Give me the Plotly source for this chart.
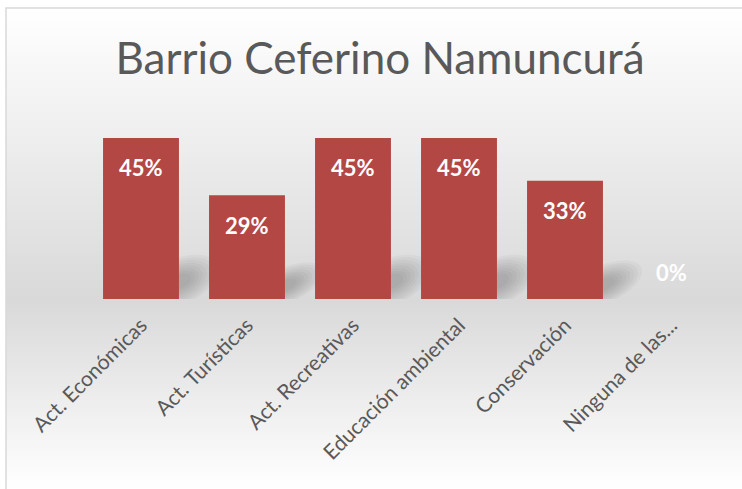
import math
import plotly.graph_objects as go

categories = ["Act. Económicas", "Act. Turísticas", "Act. Recreativas",
              "Educación ambiental", "Conservación", "Ninguna de las..."]
values = [0.45, 0.29, 0.45, 0.45, 0.33, 0.0]
value_labels = ["45%", "29%", "45%", "45%", "33%", "0%"]
title_text = "Barrio Ceferino Namuncurá"

W, H = 742, 489
L, R, T, B = 88, 18, 120, 190
PW, PH = W - L - R, H - T - B
YMAX = 0.5
XU = PW / len(categories)      # px per category
YU = PH / YMAX                 # px per unit value

def px(xp):
    return (xp - L) / PW

def py(yp):
    return (H - B - yp) / PH

shapes = []
# background gradient (Excel style)
def gray_at(p):
    top, mid, bot = 8, 300, 489
    if p <= mid:
        t = (p - top) / (mid - top)
        return 255 - 38 * t
    t = (p - mid) / (bot - mid)
    return 217 + 38 * t

step = 4
yp = 8
while yp < H:
    g = int(round(gray_at(yp + step / 2)))
    shapes.append(dict(type="rect", xref="paper", yref="paper", layer="below",
                       x0=px(6), x1=px(W + 10), y0=py(yp), y1=py(yp + step + 0.6),
                       line=dict(width=0), fillcolor=f"rgb({g},{g},{g})"))
    yp += step

# border
shapes.append(dict(type="rect", xref="paper", yref="paper", layer="below",
                   x0=px(6), x1=px(W + 20), y0=py(8), y1=py(H + 20),
                   line=dict(color="#d9d9d9", width=1.5), fillcolor="rgba(0,0,0,0)"))

# soft perspective shadows behind bars (blurred rotated ellipses)
half = 0.358
for i, v in enumerate(values):
    if v <= 0:
        continue
    bar_px = v * YU
    hs = 14 + 0.17 * bar_px
    cx_px, cy_px = 0, hs * 0.42
    a0, b0 = 42, hs * 0.55
    ang = math.radians(24)
    for k in range(8):
        s = 1 - k * 0.1
        a, b = a0 * s, b0 * s
        pts = []
        for j in range(40):
            t = 2 * math.pi * j / 40
            ex, ey = a * math.cos(t), b * math.sin(t)
            rx = ex * math.cos(ang) - ey * math.sin(ang)
            ry = ex * math.sin(ang) + ey * math.cos(ang)
            xd = i + half + (cx_px + rx) / XU
            yd = (cy_px + ry) / YU
            pts.append(f"{xd:.4f} {yd:.5f}")
        path = "M " + " L ".join(pts) + " Z"
        shapes.append(dict(type="path", xref="x", yref="y", layer="below",
                           path=path, fillcolor="rgba(60,60,60,0.045)",
                           line=dict(width=0)))

fig = go.Figure()
fig.add_trace(go.Bar(
    x=list(range(len(categories))), y=values,
    marker=dict(color="#b34744", line=dict(width=0)),
    width=2 * half, hoverinfo="skip", showlegend=False,
))

annotations = []
for i, (v, lab) in enumerate(zip(values, value_labels)):
    annotations.append(dict(x=i, y=v, xref="x", yref="y", text=f"<b>{lab}</b>",
                            showarrow=False, yshift=-30 if v > 0 else 27,
                            font=dict(family="Lato", size=22, color="white")))

fig.update_layout(
    width=W, height=H,
    margin=dict(l=L, r=R, t=T, b=B, pad=0),
    paper_bgcolor="white", plot_bgcolor="rgba(0,0,0,0)",
    title=dict(text=title_text, x=380 / W, xanchor="center",
               y=1 - 59 / H, yanchor="middle",
               font=dict(family="Lato", size=44, color="#595959")),
    xaxis=dict(tickmode="array", tickvals=list(range(len(categories))),
               ticktext=categories, tickangle=-45, range=[-0.5, 5.5],
               showgrid=False, zeroline=False, showline=False, ticks="",
               ticklabelstandoff=9,
               tickfont=dict(family="Lato", size=21, color="#595959")),
    yaxis=dict(range=[0, YMAX], visible=False, showgrid=False, zeroline=False),
    shapes=shapes, annotations=annotations,
)

fig.write_html("out.html", config={"displayModeBar": False},
               post_script="document.body.style.margin='0';document.body.style.padding='0';")
